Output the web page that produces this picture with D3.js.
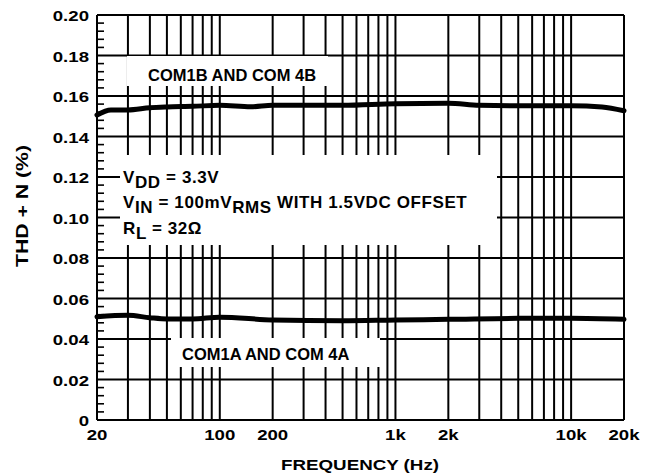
<!DOCTYPE html>
<html>
<head>
<meta charset="utf-8">
<script src="https://cdn.jsdelivr.net/npm/d3@7"></script>
<style>
  body { margin: 0; background: #fff; }
  text { font-family: "Liberation Sans", Arial, sans-serif; font-weight: bold; fill: #000; }
</style>
</head>
<body>
<script>
//chart values
var freqTicks = [20, 100, 200, 1000, 2000, 10000, 20000];
var freqLabels = ["20", "100", "200", "1k", "2k", "10k", "20k"];
var thdTicks = [0, 0.02, 0.04, 0.06, 0.08, 0.10, 0.12, 0.14, 0.16, 0.18, 0.20];
var thdLabels = ["0", "0.02", "0.04", "0.06", "0.08", "0.10", "0.12", "0.14", "0.16", "0.18", "0.20"];

//COM1B and COM 4B
var freqB = [20, 24, 30, 40, 50, 70, 100, 150, 200, 500, 1000, 2000, 3000, 5000, 10000, 15000, 20000];
var thdB = [0.1506, 0.1531, 0.1531, 0.1542, 0.1546, 0.1549, 0.1554, 0.1547, 0.1554, 0.1554, 0.1562, 0.1564, 0.1554, 0.1552, 0.1552, 0.1546, 0.1527];

//COM1A and COM 4A
var freqA = [20, 30, 40, 50, 70, 100, 200, 500, 1000, 2000, 5000, 10000, 20000];
var thdA = [0.0510, 0.0517, 0.0505, 0.0499, 0.0499, 0.0508, 0.0494, 0.0490, 0.0494, 0.0497, 0.0502, 0.0502, 0.0497];

window.onload = drawChart();

//widen a label the way the original lettering is widened
function stretch(sel, k){
    sel.each(function(){
        var w = this.getComputedTextLength();
        d3.select(this).attr("textLength", w * k).attr("lengthAdjust", "spacingAndGlyphs");
    });
}

function drawChart(){
    var width = 657, height = 476;
    var left = 97, right = 624, top = 15, bottom = 420;

    var svg = d3.select("body").append("svg")
        .attr("width", width)
        .attr("height", height);

    var x = d3.scaleLog().domain([20, 20000]).range([left, right]);
    var y = d3.scaleLinear().domain([0, 0.2]).range([bottom, top]);

    //grid lines at 20..100, 100..1k, 1k..10k, 20k
    var gridX = [];
    [10, 100, 1000].forEach(function(d){
        for (var k = 1; k <= 9; k++) if (d * k >= 20) gridX.push(d * k);
    });
    gridX.push(10000, 20000);

    var g = svg.append("g");

    g.selectAll(".vgrid").data(gridX).enter().append("line")
        .attr("x1", function(d){ return x(d); })
        .attr("x2", function(d){ return x(d); })
        .attr("y1", top).attr("y2", bottom)
        .attr("stroke", "#000").attr("stroke-width", 2);

    g.selectAll(".hgrid").data(thdTicks).enter().append("line")
        .attr("x1", left).attr("x2", right)
        .attr("y1", function(d){ return y(d); })
        .attr("y2", function(d){ return y(d); })
        .attr("stroke", "#000").attr("stroke-width", 2);

    //minor ticks on the left axis
    var minor = d3.range(0, 0.2, 0.004).filter(function(d){ return Math.round(d * 1000) % 20 !== 0; });
    g.selectAll(".minor").data(minor).enter().append("line")
        .attr("x1", left).attr("x2", left + 7)
        .attr("y1", function(d){ return y(d); })
        .attr("y2", function(d){ return y(d); })
        .attr("stroke", "#000").attr("stroke-width", 1.6);

    //white boxes behind the notes
    var boxes = [[127, 56, 201, 30], [120, 155, 377, 90], [171, 338, 209, 29]];
    g.selectAll(".box").data(boxes).enter().append("rect")
        .attr("x", function(d){ return d[0]; })
        .attr("y", function(d){ return d[1]; })
        .attr("width", function(d){ return d[2]; })
        .attr("height", function(d){ return d[3]; })
        .attr("fill", "#fff");

    //curves
    var line = d3.line().curve(d3.curveMonotoneX);
    [[freqB, thdB], [freqA, thdA]].forEach(function(s){
        svg.append("path")
            .attr("d", line(s[0].map(function(f, i){ return [x(f), y(s[1][i])]; })))
            .attr("fill", "none")
            .attr("stroke", "#000")
            .attr("stroke-width", 5)
            .attr("stroke-linecap", "round");
    });

    //tick labels
    var yl = svg.selectAll(".ylab").data(thdTicks).enter().append("text")
        .attr("x", 89)
        .attr("y", function(d){ return y(d) + 6; })
        .attr("text-anchor", "end")
        .attr("font-size", 15.5)
        .text(function(d, i){ return thdLabels[i]; });
    stretch(yl, 1.2);

    var xl = svg.selectAll(".xlab").data(freqTicks).enter().append("text")
        .attr("x", function(d){ return x(d); })
        .attr("y", 440)
        .attr("text-anchor", "middle")
        .attr("font-size", 15.5)
        .text(function(d, i){ return freqLabels[i]; });
    stretch(xl, 1.2);

    svg.append("text")
        .attr("x", 360).attr("y", 470)
        .attr("text-anchor", "middle")
        .attr("font-size", 15.5)
        .attr("textLength", 158).attr("lengthAdjust", "spacingAndGlyphs")
        .text("FREQUENCY (Hz)");

    svg.append("text")
        .attr("transform", "translate(28,206) rotate(-90)")
        .attr("text-anchor", "middle")
        .attr("font-size", 16)
        .attr("textLength", 122).attr("lengthAdjust", "spacingAndGlyphs")
        .text("THD + N (%)");

    //notes
    svg.append("text").attr("x", 148).attr("y", 81).attr("font-size", 16.5)
        .text("COM1B AND COM 4B");
    svg.append("text").attr("x", 182).attr("y", 360).attr("font-size", 16.5)
        .text("COM1A AND COM 4A");

    var notes = svg.append("g")
        .attr("font-size", 17)
        .attr("letter-spacing", 0.6);

    var t1 = notes.append("text").attr("x", 123).attr("y", 183);
    t1.append("tspan").text("V");
    t1.append("tspan").attr("dy", 5).text("DD");
    t1.append("tspan").attr("dy", -5).text(" = 3.3V");

    var t2 = notes.append("text").attr("x", 123).attr("y", 208);
    t2.append("tspan").text("V");
    t2.append("tspan").attr("dy", 5).text("IN");
    t2.append("tspan").attr("dy", -5).text(" = 100mV");
    t2.append("tspan").attr("dy", 5).text("RMS");
    t2.append("tspan").attr("dy", -5).text(" WITH 1.5VDC OFFSET");

    var t3 = notes.append("text").attr("x", 123).attr("y", 234);
    t3.append("tspan").text("R");
    t3.append("tspan").attr("dy", 5).text("L");
    t3.append("tspan").attr("dy", -5).text(" = 32\u03A9");
}
</script>
</body>
</html>
